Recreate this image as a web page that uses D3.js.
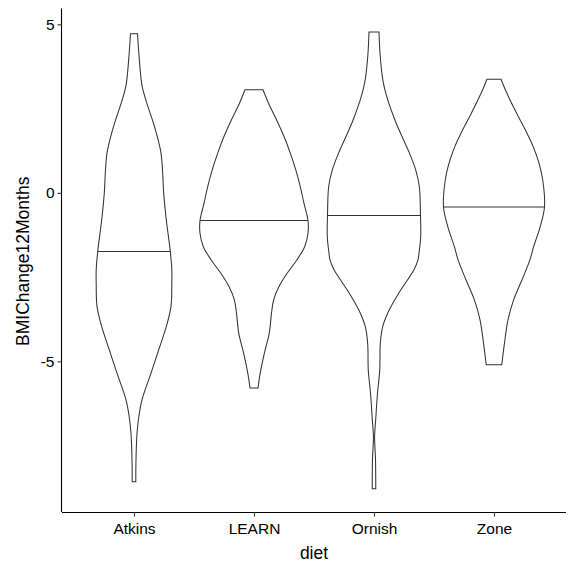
<!DOCTYPE html>
<html>
<head>
<meta charset="utf-8">
<script src="https://cdn.jsdelivr.net/npm/d3@7"></script>
<style>
  html, body { margin: 0; padding: 0; background: #ffffff; }
  svg { display: block; }
  text { font-family: "Liberation Sans", Arial, Helvetica, sans-serif; fill: #000; }
</style>
</head>
<body>
<svg id="chart" width="576" height="576"></svg>
<script>
// ---- data ----
const categories = ["Atkins", "LEARN", "Ornish", "Zone"];

// y-values (BMI change) along each violin outline, with relative density (1 = widest violin)
const atkinsY = [4.72, 4.15, 3.55, 3.15, 2.66, 2.17, 1.67, 1.18, 0.68, 0.0, -0.8, -1.74, -2.28, -2.7, -3.37, -3.97, -4.66, -5.35, -6.14, -6.6, -7.13, -7.92, -8.57];
const atkinsD = [0.065, 0.089, 0.12, 0.152, 0.237, 0.339, 0.431, 0.5, 0.528, 0.55, 0.598, 0.672, 0.70, 0.70, 0.685, 0.598, 0.457, 0.315, 0.148, 0.093, 0.056, 0.037, 0.033];

const learnY = [3.06, 2.66, 2.17, 1.67, 1.18, 0.68, 0.19, -0.31, -0.82, -1.20, -1.59, -1.99, -2.38, -2.78, -3.17, -3.57, -4.16, -4.76, -5.35, -5.79];
const learnD = [0.167, 0.269, 0.417, 0.556, 0.672, 0.774, 0.856, 0.926, 1.0, 1.0, 0.94, 0.793, 0.617, 0.463, 0.365, 0.324, 0.283, 0.191, 0.115, 0.074];

const ornishY = [4.77, 4.15, 3.35, 2.86, 2.17, 1.67, 1.18, 0.68, 0.19, -0.67, -1.30, -1.79, -1.99, -2.28, -2.48, -2.98, -3.47, -3.97, -4.47, -5.26, -5.94, -6.74, -7.23, -7.92, -8.78];
const ornishD = [0.093, 0.111, 0.163, 0.235, 0.385, 0.519, 0.657, 0.772, 0.839, 0.861, 0.865, 0.833, 0.815, 0.741, 0.663, 0.457, 0.283, 0.161, 0.117, 0.106, 0.065, 0.031, 0.011, 0.028, 0.033];

const zoneY = [3.37, 2.96, 2.37, 1.87, 1.37, 0.88, 0.39, -0.42, -1.0, -1.59, -1.99, -2.58, -3.17, -3.77, -4.46, -5.10];
const zoneD = [0.13, 0.237, 0.417, 0.58, 0.726, 0.833, 0.902, 0.935, 0.856, 0.735, 0.665, 0.519, 0.365, 0.259, 0.194, 0.144];

const medians = [-1.74, -0.82, -0.67, -0.42];
const yTicks = [-5, 0, 5];
const xLabel = "diet";
const yLabel = "BMIChange12Months";

// ---- layout ----
const svg = d3.select("#chart");
const panel = { left: 62, right: 566, top: 8.5, bottom: 512 };

// ggplot: centers at 1..4 with 0.6-unit expansion on each side
const xPos = d3.scalePoint().domain(categories).range([panel.left + 72, panel.right - 72]);
const bandW = xPos.step();

const y = d3.scaleLinear().domain([-9.47, 5.47]).range([panel.bottom, panel.top]);
const w = d3.scaleLinear().domain([0, 1]).range([0, bandW * 0.9 / 2]);

const violins = [
  { cat: "Atkins", ys: atkinsY, ds: atkinsD },
  { cat: "LEARN", ys: learnY, ds: learnD },
  { cat: "Ornish", ys: ornishY, ds: ornishD },
  { cat: "Zone", ys: zoneY, ds: zoneD }
];

const g = svg.append("g");

violins.forEach((v, i) => {
  const cx = xPos(v.cat);
  const pts = v.ys.map((yy, k) => ({ v: yy, d: v.ds[k] }));
  const area = d3.area()
    .y(d => y(d.v))
    .x0(d => cx - w(d.d))
    .x1(d => cx + w(d.d))
    .curve(d3.curveCatmullRom.alpha(0.5));
  g.append("path")
    .attr("d", area(pts))
    .attr("fill", "#ffffff")
    .attr("stroke", "#333333")
    .attr("stroke-width", 1.05);

  // median line: width = density at the median (interpolated)
  const m = medians[i];
  const interp = d3.scaleLinear().domain(v.ys).range(v.ds);
  const hw = w(interp(m));
  g.append("line")
    .attr("x1", cx - hw).attr("x2", cx + hw)
    .attr("y1", y(m)).attr("y2", y(m))
    .attr("stroke", "#333333")
    .attr("stroke-width", 1.05);
});

// ---- axes ----
const xAxis = d3.axisBottom(xPos).tickSize(4.5).tickPadding(3).tickSizeOuter(0);
const gx = svg.append("g").attr("transform", `translate(0,${panel.bottom})`).call(xAxis);
gx.select(".domain").attr("d", `M${panel.left},0.5H${panel.right}`).attr("stroke", "#000").attr("stroke-width", 1.1);
gx.selectAll(".tick line").attr("stroke", "#333").attr("stroke-width", 1.1);
gx.selectAll(".tick text").attr("font-size", "15.5px").attr("fill", "#000")
  .attr("font-family", "Liberation Sans, Arial, sans-serif").attr("dy", "0.95em");

const yAxis = d3.axisLeft(y).tickValues(yTicks).tickFormat(d => String(d)).tickSize(4.5).tickPadding(3).tickSizeOuter(0);
const gy = svg.append("g").attr("transform", `translate(${panel.left},0)`).call(yAxis);
gy.select(".domain").attr("d", `M-0.5,${panel.top}V${panel.bottom}`).attr("stroke", "#000").attr("stroke-width", 1.1);
gy.selectAll(".tick line").attr("stroke", "#333").attr("stroke-width", 1.1);
gy.selectAll(".tick text").attr("font-size", "15.5px").attr("fill", "#000")
  .attr("font-family", "Liberation Sans, Arial, sans-serif");

// axis titles
svg.append("text")
  .attr("x", (panel.left + panel.right) / 2)
  .attr("y", 559)
  .attr("text-anchor", "middle")
  .attr("font-size", "17.5px")
  .text(xLabel);

svg.append("text")
  .attr("transform", `translate(29,${(panel.top + panel.bottom) / 2 + 1}) rotate(-90)`)
  .attr("text-anchor", "middle")
  .attr("font-size", "17.5px")
  .text(yLabel);
</script>
</body>
</html>
